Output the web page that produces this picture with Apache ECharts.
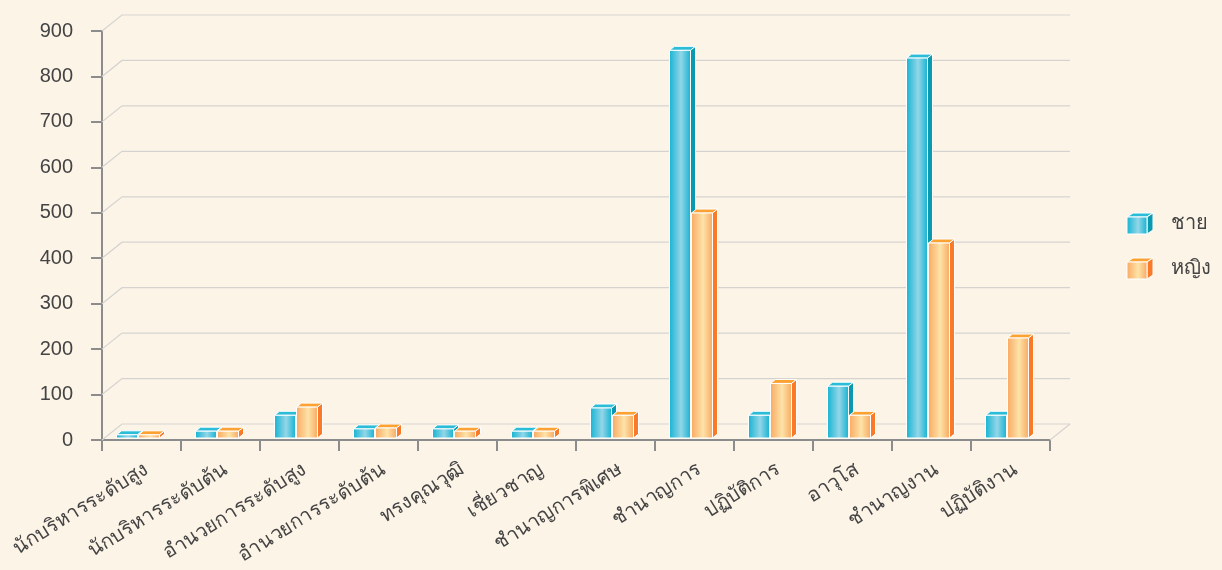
<!DOCTYPE html>
<html>
<head>
<meta charset="utf-8">
<style>html,body{margin:0;padding:0;background:#fdf4e8}#c{width:1222px;height:570px}</style>
<script src="https://cdn.jsdelivr.net/npm/echarts@6/dist/echarts.min.js"></script>
</head>
<body>
<div id="c"></div>
<script>
const categories = ['นักบริหารระดับสูง','นักบริหารระดับต้น','อำนวยการระดับสูง','อำนวยการระดับต้น','ทรงคุณวุฒิ','เชี่ยวชาญ','ชำนาญการพิเศษ','ชำนาญการ','ปฏิบัติการ','อาวุโส','ชำนาญงาน','ปฏิบัติงาน'];
const maleValues = [7,15,50,20,20,15,66,853,50,114,836,50];
const femaleValues = [7,15,68,22,15,15,50,495,120,50,429,220];
const seriesNames = ['ชาย','หญิง'];
const gridTicks = [0,100,200,300,400,500,600,700,800,900];

const FONT = '"Liberation Sans","Noto Sans",sans-serif';
const TEXT = '#444444';
const BAR = 21, LIFT = 2;
const male = {front:['#12b3d2','#93d6e8','#10b2d1'], side:'#0a9ab0', top:'#2bbcd8'};
const female = {front:['#f9a860','#fde3a8','#f9a860'], side:'#f97a28', top:'#fba232'};

function grad(c){
  return new echarts.graphic.LinearGradient(0,0,1,0,[
    {offset:0,color:c[0]},{offset:0.55,color:c[1]},{offset:1,color:c[2]}]);
}
function box(x,y,w,h,c,DX,DY){
  const stroke = {stroke:'#ffffff',lineWidth:1};
  return [
    {type:'polygon',shape:{points:[[x,y],[x+DX,y-DY],[x+w+DX,y-DY],[x+w,y]]},style:Object.assign({fill:c.top},stroke)},
    {type:'polygon',shape:{points:[[x+w,y],[x+w+DX,y-DY],[x+w+DX,y+h-DY],[x+w,y+h]]},style:Object.assign({fill:c.side},stroke)},
    {type:'rect',shape:{x:x,y:y,width:w,height:h},style:Object.assign({fill:grad(c.front)},stroke)}
  ];
}
function barRender(c,off){
  return function(params,api){
    const p = api.coord([api.value(0),api.value(1)]);
    const b = api.coord([api.value(0),0]);
    const x = p[0]+off, y = p[1]-LIFT, h = b[1]-p[1];
    return {type:'group',children:box(x,y,BAR,h,c,5,4)};
  };
}
function gridRender(params,api){
  const s = params.coordSys;
  const y = api.coord([0,api.value(0)])[1];
  const children = [{type:'polyline',shape:{points:[[s.x,y],[s.x+20,y-16],[s.x+s.width+20,y-16]]},
    style:{fill:'none',stroke:'#d5d3d0',lineWidth:1.2}}];
  if(api.value(0)===0){
    children.push({type:'line',shape:{x1:s.x+s.width,y1:y,x2:s.x+s.width+20,y2:y-16},
      style:{stroke:'#d5d3d0',lineWidth:1.2}});
  }
  return {type:'group',children};
}
function legendBox(x,y,w,h,c,name){
  return [...box(x,y,w,h,c,6,4),
    {type:'text',x:1171,y:y+h/2-2,style:{text:name,fill:TEXT,font:'20px '+FONT,textVerticalAlign:'middle'}}];
}

const chart = echarts.init(document.getElementById('c'),null,{renderer:'canvas'});
chart.setOption({
  animation:false,
  backgroundColor:'#fdf4e8',
  grid:{left:102,right:172,top:31,bottom:130},
  xAxis:{type:'category',data:categories,
    axisLine:{lineStyle:{color:'#8c8c8c',width:2}},
    axisTick:{show:true,length:11,alignWithLabel:false,lineStyle:{color:'#8c8c8c',width:2}},
    axisLabel:{interval:0,rotate:32,margin:31,padding:[0,-6,0,0],color:TEXT,fontSize:20,fontFamily:FONT},
    splitLine:{show:false}},
  yAxis:{type:'value',min:0,max:900,interval:100,
    axisLine:{show:true,lineStyle:{color:'#8c8c8c',width:2}},
    axisTick:{show:true,length:11,lineStyle:{color:'#8c8c8c',width:2}},
    axisLabel:{margin:29,padding:[3,0,0,0],color:TEXT,fontSize:20,fontFamily:FONT},
    splitLine:{show:false}},
  graphic:[
    ...legendBox(1127,217,20,17,male,seriesNames[0]),
    ...legendBox(1127,262,20,17,female,seriesNames[1])
  ],
  series:[
    {type:'custom',name:'grid',coordinateSystem:'cartesian2d',clip:false,silent:true,z:1,
      data:gridTicks.map(v=>[v]),encode:{y:0},renderItem:gridRender},
    {type:'custom',name:seriesNames[0],coordinateSystem:'cartesian2d',clip:false,z:3,
      data:maleValues.map((v,i)=>[i,v]),encode:{x:0,y:1},renderItem:barRender(male,-25)},
    {type:'custom',name:seriesNames[1],coordinateSystem:'cartesian2d',clip:false,z:4,
      data:femaleValues.map((v,i)=>[i,v]),encode:{x:0,y:1},renderItem:barRender(female,-3)}
  ]
});
</script>
</body>
</html>
